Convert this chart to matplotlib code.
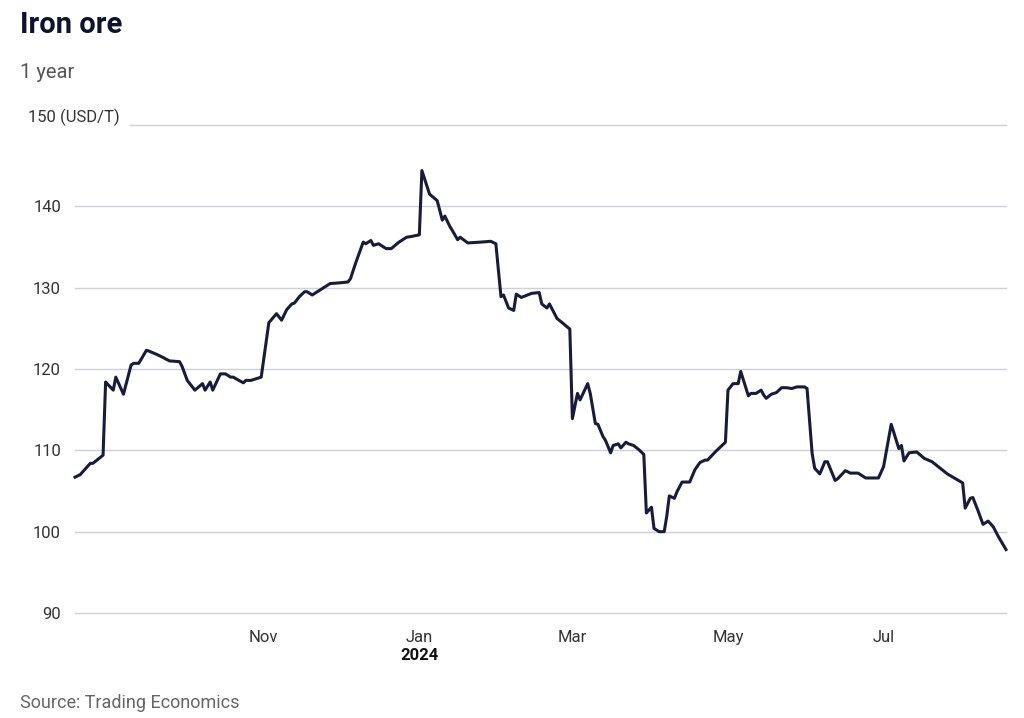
import pandas as pd
import matplotlib.pyplot as plt
import matplotlib.dates as mdates

# Iron ore price, USD/T
dates = [
    "2023-08-19", "2023-08-21", "2023-08-25", "2023-08-26", "2023-08-30", "2023-08-31",
    "2023-09-03", "2023-09-04", "2023-09-06", "2023-09-07", "2023-09-10", "2023-09-11",
    "2023-09-13", "2023-09-16", "2023-09-17", "2023-09-20", "2023-09-22", "2023-09-25",
    "2023-09-29", "2023-09-30", "2023-10-02", "2023-10-05", "2023-10-08", "2023-10-09",
    "2023-10-11", "2023-10-12", "2023-10-15", "2023-10-17", "2023-10-19", "2023-10-20",
    "2023-10-24", "2023-10-25", "2023-10-27", "2023-10-31", "2023-11-03", "2023-11-06",
    "2023-11-08", "2023-11-10", "2023-11-12", "2023-11-13", "2023-11-15", "2023-11-17",
    "2023-11-18", "2023-11-20", "2023-11-27", "2023-12-01", "2023-12-04", "2023-12-05",
    "2023-12-07", "2023-12-10", "2023-12-11", "2023-12-13", "2023-12-14", "2023-12-16",
    "2023-12-19", "2023-12-21", "2023-12-24", "2023-12-27", "2023-12-29", "2024-01-01",
    "2024-01-02", "2024-01-05", "2024-01-08", "2024-01-10", "2024-01-11", "2024-01-13",
    "2024-01-14", "2024-01-16", "2024-01-17", "2024-01-20", "2024-01-25", "2024-01-29",
    "2024-01-31", "2024-02-02", "2024-02-03", "2024-02-05", "2024-02-07", "2024-02-08",
    "2024-02-10", "2024-02-14", "2024-02-17", "2024-02-18", "2024-02-20", "2024-02-21",
    "2024-02-24", "2024-02-26", "2024-02-29", "2024-03-01", "2024-03-03", "2024-03-04",
    "2024-03-07", "2024-03-08", "2024-03-10", "2024-03-11", "2024-03-13", "2024-03-14",
    "2024-03-16", "2024-03-17", "2024-03-19", "2024-03-20", "2024-03-22", "2024-03-23",
    "2024-03-25", "2024-03-27", "2024-03-29", "2024-03-30", "2024-04-01", "2024-04-02",
    "2024-04-04", "2024-04-06", "2024-04-07", "2024-04-08", "2024-04-10", "2024-04-11",
    "2024-04-13", "2024-04-16", "2024-04-18", "2024-04-20", "2024-04-22", "2024-04-23",
    "2024-04-26", "2024-04-30", "2024-05-01", "2024-05-03", "2024-05-05", "2024-05-06",
    "2024-05-07", "2024-05-09", "2024-05-10", "2024-05-12", "2024-05-14", "2024-05-15",
    "2024-05-16", "2024-05-18", "2024-05-20", "2024-05-22", "2024-05-24", "2024-05-26",
    "2024-05-28", "2024-05-31", "2024-06-01", "2024-06-03", "2024-06-04", "2024-06-06",
    "2024-06-08", "2024-06-09", "2024-06-12", "2024-06-13", "2024-06-16", "2024-06-18",
    "2024-06-21", "2024-06-24", "2024-06-29", "2024-07-01", "2024-07-04", "2024-07-07",
    "2024-07-08", "2024-07-09", "2024-07-11", "2024-07-14", "2024-07-17", "2024-07-20",
    "2024-07-26", "2024-08-01", "2024-08-02", "2024-08-04", "2024-08-05", "2024-08-07",
    "2024-08-09", "2024-08-11", "2024-08-13", "2024-08-15", "2024-08-18",
]
prices = [
    106.7, 107.0, 108.4, 108.4, 109.4, 118.4,
    117.4, 119.0, 117.6, 116.9, 120.5, 120.7,
    120.7, 122.3, 122.2, 121.8, 121.5, 121.0,
    120.9, 120.3, 118.6, 117.4, 118.2, 117.4,
    118.4, 117.4, 119.4, 119.4, 119.0, 119.0,
    118.3, 118.6, 118.6, 119.0, 125.7, 126.8,
    126.0, 127.3, 128.0, 128.1, 128.9, 129.5,
    129.5, 129.1, 130.5, 130.6, 130.7, 131.1,
    133.0, 135.6, 135.4, 135.8, 135.2, 135.4,
    134.8, 134.8, 135.6, 136.2, 136.3, 136.5,
    144.4, 141.5, 140.7, 138.3, 138.8, 137.5,
    137.0, 135.9, 136.2, 135.5, 135.6, 135.7,
    135.4, 128.9, 129.1, 127.5, 127.2, 129.2,
    128.8, 129.3, 129.4, 128.0, 127.5, 128.0,
    126.2, 125.7, 124.9, 113.9, 117.0, 116.2,
    118.2, 117.0, 113.3, 113.2, 111.7, 111.2,
    109.7, 110.6, 110.8, 110.3, 111.0, 110.8,
    110.6, 110.1, 109.5, 102.3, 103.0, 100.4,
    100.0, 100.0, 101.9, 104.4, 104.1, 104.9,
    106.1, 106.1, 107.6, 108.5, 108.8, 108.8,
    109.8, 111.0, 117.4, 118.2, 118.2, 119.7,
    118.7, 116.7, 117.0, 117.0, 117.4, 116.8,
    116.4, 116.9, 117.1, 117.7, 117.7, 117.6,
    117.8, 117.8, 117.6, 109.6, 107.8, 107.1,
    108.6, 108.6, 106.3, 106.5, 107.5, 107.2,
    107.2, 106.6, 106.6, 108.0, 113.2, 110.2,
    110.6, 108.7, 109.7, 109.8, 109.0, 108.6,
    107.1, 106.0, 102.9, 104.1, 104.2, 102.6,
    100.9, 101.3, 100.6, 99.4, 97.8,
]

y_ticks = [90, 100, 110, 120, 130, 140]
x_ticks = ["2023-11-01", "2024-01-01", "2024-03-01", "2024-05-01", "2024-07-01"]
x_labels = ["Nov", "Jan", "Mar", "May", "Jul"]

NAVY = "#181c3a"
GRID = "#cdd0dc"
FONTS = ["Liberation Sans Narrow", "Roboto", "DejaVu Sans"]

plt.rcParams["font.family"] = FONTS

x = pd.to_datetime(dates)

fig = plt.figure(figsize=(10.24, 7.18), dpi=100)
W, H = 1024, 718
ax = fig.add_axes([75 / W, (H - 613) / H, (1006 - 75) / W, (613 - 125) / H])

ax.plot(x, prices, color=NAVY, lw=2.2, solid_joinstyle="round", clip_on=False, zorder=3)

ax.set_xlim(x[0], x[-1])
ax.set_ylim(90, 150)

# horizontal grid lines, the top one starts after its unit label
for v in y_ticks:
    ax.axhline(v, color=GRID, lw=1.0, zorder=1, clip_on=False)
ax.axhline(150, xmin=(130 - 75) / (1006 - 75), color=GRID, lw=1.0, zorder=1, clip_on=False)

for s in ax.spines.values():
    s.set_visible(False)

ax.set_yticks(y_ticks)
ax.set_yticklabels([str(v) for v in y_ticks])
ax.tick_params(axis="y", length=0, pad=10, labelsize=12, labelcolor="#333333")

ax.set_xticks(pd.to_datetime(x_ticks))
ax.set_xticklabels(x_labels)
ax.tick_params(axis="x", length=0, pad=12, labelsize=12, labelcolor="#333333")

fig.text(28 / W, 1 - 117 / H, "150 (USD/T)", fontsize=12, color="#333333",
         ha="left", va="center")
ax.text(mdates.date2num(pd.Timestamp("2024-01-01")), -0.088, "2024",
        transform=ax.get_xaxis_transform(), ha="center", va="center",
        fontsize=12, fontweight="bold", color="#111111")

fig.text(20 / W, 1 - 25 / H, "Iron ore", fontsize=21, fontweight="bold",
         color="#0d1230", ha="left", va="center")
fig.text(20 / W, 1 - 73 / H, "1 year", fontsize=14.5, color="#555555",
         ha="left", va="center")
fig.text(20 / W, 1 - 703 / H, "Source: Trading Economics", fontsize=13,
         color="#666666", ha="left", va="center")

fig.savefig("out.png", dpi=100, facecolor="white")
